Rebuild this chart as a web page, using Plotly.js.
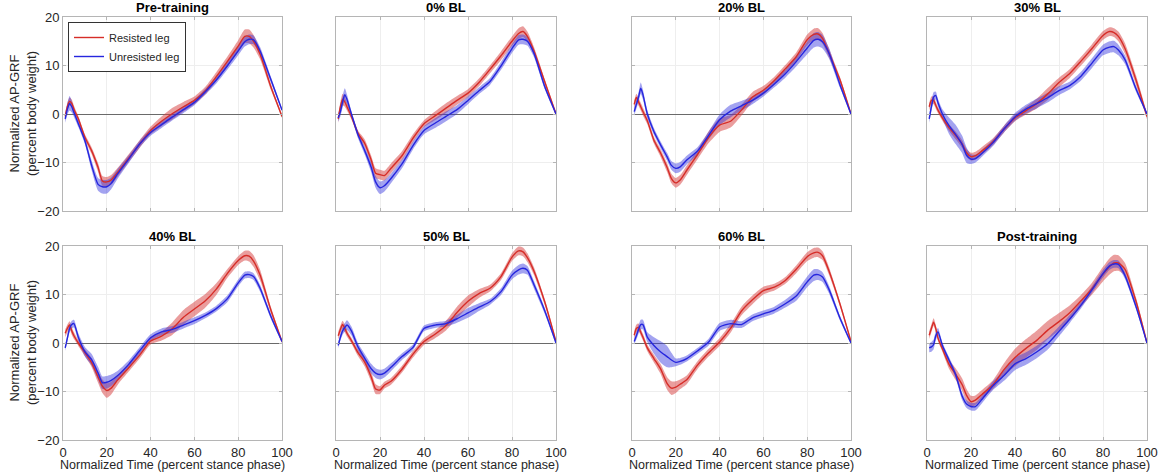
<!DOCTYPE html>
<html>
<head>
<meta charset="utf-8">
<script src="https://cdn.plot.ly/plotly-3.0.1.min.js"></script>
<style>html,body{margin:0;padding:0;background:#fff}#chart{width:1166px;height:476px}</style>
</head>
<body>
<div id="chart"></div>
<script>
// Common x grid (percent stance phase)
const X = [1,2,3,4,5,7,10,13,16,18,20,22,25,30,35,40,45,50,55,60,65,70,75,80,83,85,87,90,95,100];

const TITLES = ['Pre-training','0% BL','20% BL','30% BL','40% BL','50% BL','60% BL','Post-training'];
const SERIES_NAMES = ['Resisted leg','Unresisted leg'];
const X_TICKS = [0,20,40,60,80,100];
const Y_TICKS = [-20,-10,0,10,20];

// Pre-training
const preRes   = [-0.5,1.5,2.6,2.2,1.0,-1,-4.8,-7.5,-11,-13.8,-14,-13.6,-12,-9.1,-6.2,-3.4,-1.5,0.1,1.5,2.8,4.8,7.7,10.8,14,16,16,15,12.3,5.5,-0.5];
const preResSd = [0.8,0.8,0.8,0.8,0.7,0.6,0.6,0.7,0.9,1.0,1.0,1.0,0.9,0.8,0.8,0.8,1.0,1.2,1.0,0.8,0.8,0.9,1.0,1.2,1.4,1.4,1.3,1.0,0.6,0.3];
const preUnr   = [-1,1.0,2.2,1.5,0.3,-2,-5.5,-10.5,-14.5,-15,-15,-14.3,-12.3,-9.3,-6.2,-3.8,-2.2,-0.6,0.9,2.4,4.6,7,9.9,13,14.9,15.4,15.3,13,7,0.8];
const preUnrSd = [0.8,1.2,1.5,1.2,0.9,0.7,0.7,1.0,1.3,1.4,1.4,1.2,1.0,0.8,0.7,0.7,0.7,0.7,0.7,0.6,0.6,0.7,0.8,0.9,1.0,1.0,0.9,0.8,0.6,0.3];

// 0% BL
const bl0Res   = [-1,1.5,3,2.5,1.5,-0.5,-4,-6,-9.5,-12.2,-12.5,-12.7,-11.2,-8.6,-5,-2,-0.4,1.2,2.8,4.3,6.5,9.2,12,15,16.6,17,16,13,6.5,0];
const bl0ResSd = [0.8,1.0,1.2,1.0,0.8,0.6,0.6,0.8,0.9,1.0,1.0,1.0,1.0,0.9,0.8,0.7,0.9,1.0,0.9,0.8,0.8,0.8,0.9,1.0,1.1,1.1,1.0,0.8,0.5,0.3];
const bl0Unr   = [-0.8,0.5,2.5,4,3,0,-4.3,-7.5,-11,-14,-15.2,-14.8,-13.3,-10.3,-6.5,-3.4,-1.9,-0.5,0.9,2.8,4.8,6.7,9.9,13.5,15.3,15.4,15,12.5,5.5,0];
const bl0UnrSd = [0.8,1.0,1.2,1.3,1.0,0.6,0.7,0.8,1.0,1.2,1.3,1.2,1.0,0.9,0.8,0.8,1.0,1.0,0.9,0.8,0.7,0.7,0.8,0.9,1.0,1.0,0.9,0.8,0.5,0.3];

// 20% BL
const bl20Res   = [2,3.4,2.5,1.5,0.5,-1.4,-5.4,-8,-11,-13.3,-14.2,-13.6,-11.6,-8.3,-4.8,-2.3,-1.5,0.8,3.5,4.9,6.9,9.3,11.8,15.3,16.4,16.5,15.6,12.5,7,0];
const bl20ResSd = [0.8,0.8,0.8,0.8,0.8,0.7,0.7,0.8,0.9,1.0,1.0,1.0,1.0,1.0,1.2,1.4,1.3,1.1,1.0,0.9,0.8,0.8,0.9,1.1,1.2,1.2,1.1,0.9,0.6,0.3];
const bl20Unr   = [0.5,2,3.5,5.3,4.0,0,-3.6,-6.3,-8.8,-10.6,-11.2,-10.9,-9.5,-7.6,-4.4,-1.2,0.6,1.7,2.8,4.3,6.2,8.3,10.8,13.6,15.2,15.4,14.9,12.5,6,0];
const bl20UnrSd = [0.8,0.9,1.0,1.2,1.0,0.8,0.7,0.7,0.8,0.9,1.0,1.0,0.9,0.8,0.8,1.1,1.3,1.0,0.8,0.7,0.7,0.8,1.0,1.3,1.5,1.5,1.4,1.1,0.6,0.3];

// 30% BL
const bl30Res   = [1.5,2.8,2.8,1.8,0.8,-0.8,-2.8,-4.4,-6.2,-8,-8.8,-8.6,-7.6,-5.7,-3.1,-0.8,0.7,2.2,4.2,6.5,8.4,10.9,13.5,16.2,17,16.8,16,13.5,7,-0.5];
const bl30ResSd = [0.8,0.8,0.8,0.7,0.6,0.6,0.7,0.8,0.8,0.8,0.8,0.8,0.8,0.7,0.7,0.7,0.8,1.0,1.2,1.0,0.9,0.9,0.9,0.9,0.9,0.9,1.0,1.1,1.0,0.6];
const bl30Unr   = [-1,1.5,3.5,3.8,2.3,0,-2.4,-4.2,-6.3,-8.5,-9.3,-9.2,-8.1,-5.9,-3.1,-0.6,1.0,2.2,3.4,4.8,5.9,7.8,10.5,13.2,13.8,13.9,13.2,11.2,5.2,0];
const bl30UnrSd = [0.8,1.0,1.0,0.8,0.8,1.0,1.7,2.0,1.8,1.6,1.0,0.8,0.7,0.7,0.7,0.8,0.9,1.0,1.0,0.9,0.8,0.9,1.0,1.1,1.2,1.2,1.1,0.9,0.6,0.3];

// 40% BL
const bl40Res   = [2,3,3.7,2.5,1.5,0,-2,-4,-7,-8.9,-9.8,-9.3,-7.6,-5.1,-2.5,0.4,1.4,3,5.3,7,8.7,11.1,14.3,17,18,17.9,16.9,14,6.7,0.3];
const bl40ResSd = [0.8,0.8,0.8,0.8,0.7,0.6,0.7,0.9,1.2,1.4,1.5,1.3,1.0,0.8,0.7,0.7,0.9,1.3,1.5,1.5,1.4,1.2,0.9,0.9,1.0,1.1,1.2,1.1,0.6,0.3];
const bl40Unr   = [-1,1,3,3.8,4,1.2,-1.8,-3.4,-6.2,-8.2,-8.1,-7.7,-6.7,-4.4,-1.6,1.1,2.3,2.8,3.7,4.6,5.7,7.1,9.1,12.4,14,14.1,13.7,11.3,5.4,0.3];
const bl40UnrSd = [0.6,0.7,0.8,0.8,0.8,0.8,1.0,1.2,1.3,1.3,1.3,1.2,1.0,0.8,0.7,0.7,0.7,0.7,0.7,0.7,0.6,0.6,0.7,0.7,0.7,0.7,0.7,0.7,0.5,0.3];

// 50% BL
const bl50Res   = [1.5,2.8,3.8,3,2,0.5,-2,-3.9,-7,-9.5,-9.7,-8.7,-7.9,-5.4,-2.3,0.3,1.8,3.6,6.3,8.6,10.2,11.3,13.7,17.7,19,18.8,17.6,14.8,8.3,0.3];
const bl50ResSd = [0.8,0.8,0.8,0.8,0.7,0.6,0.7,0.9,1.0,1.0,0.8,0.7,0.7,0.7,0.7,0.7,0.8,1.0,1.2,1.2,0.9,0.7,0.7,0.8,0.9,0.9,0.9,0.8,0.6,0.3];
const bl50Unr   = [-0.5,1.2,2.5,3.2,3.7,2.5,-0.8,-3.1,-5.3,-6.2,-6.5,-6.2,-5,-2.8,-0.9,3.0,3.7,4.0,5,6.2,7.4,8.5,10.6,14,15.1,15.4,15,12,6.5,0];
const bl50UnrSd = [0.6,0.7,0.8,0.9,1.0,0.9,0.8,0.9,1.0,1.0,1.0,0.9,0.8,0.7,0.6,0.6,0.6,0.6,0.8,1.0,0.8,0.6,0.7,0.9,1.0,1.0,0.9,0.8,0.6,0.3];

// 60% BL
const bl60Res   = [1.6,3,3.2,2.2,1.2,-1,-3.2,-5.3,-8.3,-9.3,-9.1,-8.5,-7.6,-4.5,-2,0.2,3,6.6,8.9,10.8,11.5,12.9,15.2,17.8,18.6,18.7,18,14.8,8,0.3];
const bl60ResSd = [0.8,0.8,0.8,0.7,0.7,0.7,0.8,1.0,1.3,1.4,1.2,1.0,0.9,0.8,0.8,0.8,0.9,0.9,0.9,0.8,0.7,0.7,0.8,0.9,1.0,1.0,0.9,0.8,0.5,0.3];
const bl60Unr   = [0.3,1.5,2.8,3.8,3.8,1.2,-0.5,-1.8,-2.8,-3.5,-4,-3.8,-3.2,-1.6,0.2,3.3,4,3.8,5.2,6,6.8,8.1,9.7,12.6,14,14.1,13.6,11,5.1,0];
const bl60UnrSd = [0.6,0.8,0.9,1.0,1.0,1.0,1.7,2.2,2.2,1.5,0.8,0.7,0.6,0.6,0.7,0.8,0.8,0.7,0.7,0.7,0.7,0.8,1.0,1.1,1.2,1.1,1.0,0.8,0.5,0.3];

// Post-training
const postRes   = [1.6,3,4.3,3,1,-1.2,-4.4,-6.4,-8.6,-10.8,-12.1,-11.8,-10.6,-8.6,-5.5,-3,-1.1,0.6,2.7,4.4,6.3,8.7,11.2,14.2,15.8,16.5,16.5,15.2,8.6,0];
const postResSd = [0.8,0.8,0.8,0.7,0.6,0.6,0.9,1.2,1.3,1.3,1.2,1.0,0.9,0.9,1.3,1.8,1.9,2.0,1.9,1.8,1.5,1.2,1.2,1.5,1.7,1.7,1.6,1.3,0.8,0.4];
const postUnr   = [-1,-0.8,-0.3,1.5,2.3,-0.5,-3.5,-6.5,-11,-12.6,-13.1,-13.1,-11.6,-8.8,-6.7,-4.3,-3.2,-1.8,-0.1,2.4,5,7.8,11,14.3,15.9,16.3,16.2,13.9,7.5,0];
const postUnrSd = [0.9,1.0,1.0,0.9,0.8,0.6,0.6,0.7,0.8,0.8,0.8,0.8,0.8,0.9,1.1,1.3,1.3,1.3,1.2,1.0,0.8,0.7,0.7,0.8,0.8,0.8,0.8,0.7,0.5,0.3];

const panels = [
  [preRes, preResSd, preUnr, preUnrSd],
  [bl0Res, bl0ResSd, bl0Unr, bl0UnrSd],
  [bl20Res, bl20ResSd, bl20Unr, bl20UnrSd],
  [bl30Res, bl30ResSd, bl30Unr, bl30UnrSd],
  [bl40Res, bl40ResSd, bl40Unr, bl40UnrSd],
  [bl50Res, bl50ResSd, bl50Unr, bl50UnrSd],
  [bl60Res, bl60ResSd, bl60Unr, bl60UnrSd],
  [postRes, postResSd, postUnr, postUnrSd]
];

const RED = 'rgb(214,45,40)', BLUE = 'rgb(38,38,222)';
const RED_FILL = 'rgba(214,60,60,0.5)', BLUE_FILL = 'rgba(50,50,222,0.45)';
const W = 1166, H = 476;
const colPx = [[63,282],[336,556],[632,851],[927,1147]];
const rowPx = [[17,211],[246,440]];
const FONT = 'Liberation Sans, Arial, Helvetica, sans-serif';

const data = [];
const layout = {
  width: W, height: H,
  margin: {l:0, r:0, t:0, b:0},
  paper_bgcolor: '#fff', plot_bgcolor: '#fff',
  font: {family: FONT, size: 13, color: '#262626'},
  showlegend: true,
  legend: {x: 68/W, y: 1-22/H, xanchor: 'left', yanchor: 'top', traceorder: 'normal',
           bgcolor: '#fff', bordercolor: '#333', borderwidth: 1,
           font: {size: 11, color: '#262626'}, tracegroupgap: 0, itemwidth: 30},
  annotations: []
};

panels.forEach((p, i) => {
  const r = Math.floor(i/4), c = i%4;
  const ax = i === 0 ? '' : String(i+1);
  const xa = 'x'+ax, ya = 'y'+ax;
  const xd = [colPx[c][0]/W, colPx[c][1]/W];
  const yd = [1-rowPx[r][1]/H, 1-rowPx[r][0]/H];
  const common = {showline: true, linecolor: '#b5b5b5', linewidth: 1, mirror: 'allticks',
    ticks: 'inside', ticklen: 3, tickcolor: '#b5b5b5', showgrid: true, gridcolor: '#eeeeee',
    gridwidth: 1, tickfont: {size: 13, color: '#262626'}};
  layout['xaxis'+ax] = Object.assign({}, common, {domain: xd, anchor: ya, range: [0,100],
    tickvals: X_TICKS, showticklabels: r === 1, zeroline: false});
  layout['yaxis'+ax] = Object.assign({}, common, {domain: yd, anchor: xa, range: [-20,20],
    tickvals: Y_TICKS, showticklabels: c === 0, zeroline: true, zerolinecolor: '#6a6a6a',
    zerolinewidth: 1});
  const [res, resSd, unr, unrSd] = p;
  const bands = [[res, resSd, RED_FILL], [unr, unrSd, BLUE_FILL]];
  bands.forEach(([m, s, fc]) => {
    data.push({x: X, y: m.map((v,k)=>v - s[k]), xaxis: xa, yaxis: ya, mode: 'lines',
      line: {width: 0, shape: 'spline', smoothing: 0.6}, showlegend: false, hoverinfo: 'skip'});
    data.push({x: X, y: m.map((v,k)=>v + s[k]), xaxis: xa, yaxis: ya, mode: 'lines',
      line: {width: 0, shape: 'spline', smoothing: 0.6}, fill: 'tonexty', fillcolor: fc,
      showlegend: false, hoverinfo: 'skip'});
  });
  data.push({x: X, y: res, xaxis: xa, yaxis: ya, mode: 'lines', name: SERIES_NAMES[0],
    line: {color: RED, width: 1.4, shape: 'spline', smoothing: 0.6}, showlegend: i === 0});
  data.push({x: X, y: unr, xaxis: xa, yaxis: ya, mode: 'lines', name: SERIES_NAMES[1],
    line: {color: BLUE, width: 1.4, shape: 'spline', smoothing: 0.6}, showlegend: i === 0});

  layout.annotations.push({text: '<b>'+TITLES[i]+'</b>', xref: 'paper', yref: 'paper',
    x: (xd[0]+xd[1])/2, y: yd[1], xanchor: 'center', yanchor: 'bottom', yshift: 0,
    showarrow: false, font: {size: 13, color: '#000', family: FONT}});
  if (r === 1) {
    layout.annotations.push({text: 'Normalized Time (percent stance phase)', xref: 'paper', yref: 'paper',
      x: (xd[0]+xd[1])/2, y: 1-465/H, xanchor: 'center', yanchor: 'middle',
      showarrow: false, font: {size: 12.5, color: '#262626', family: FONT}});
  }
  if (c === 0) {
    layout.annotations.push({text: 'Normalized AP-GRF<br>(percent body weight)', xref: 'paper', yref: 'paper',
      x: 23/W, y: (yd[0]+yd[1])/2, xanchor: 'center', yanchor: 'middle', textangle: -90,
      showarrow: false, font: {size: 13, color: '#262626', family: FONT}});
  }
});

Plotly.newPlot('chart', data, layout, {staticPlot: true});
</script>
</body>
</html>
